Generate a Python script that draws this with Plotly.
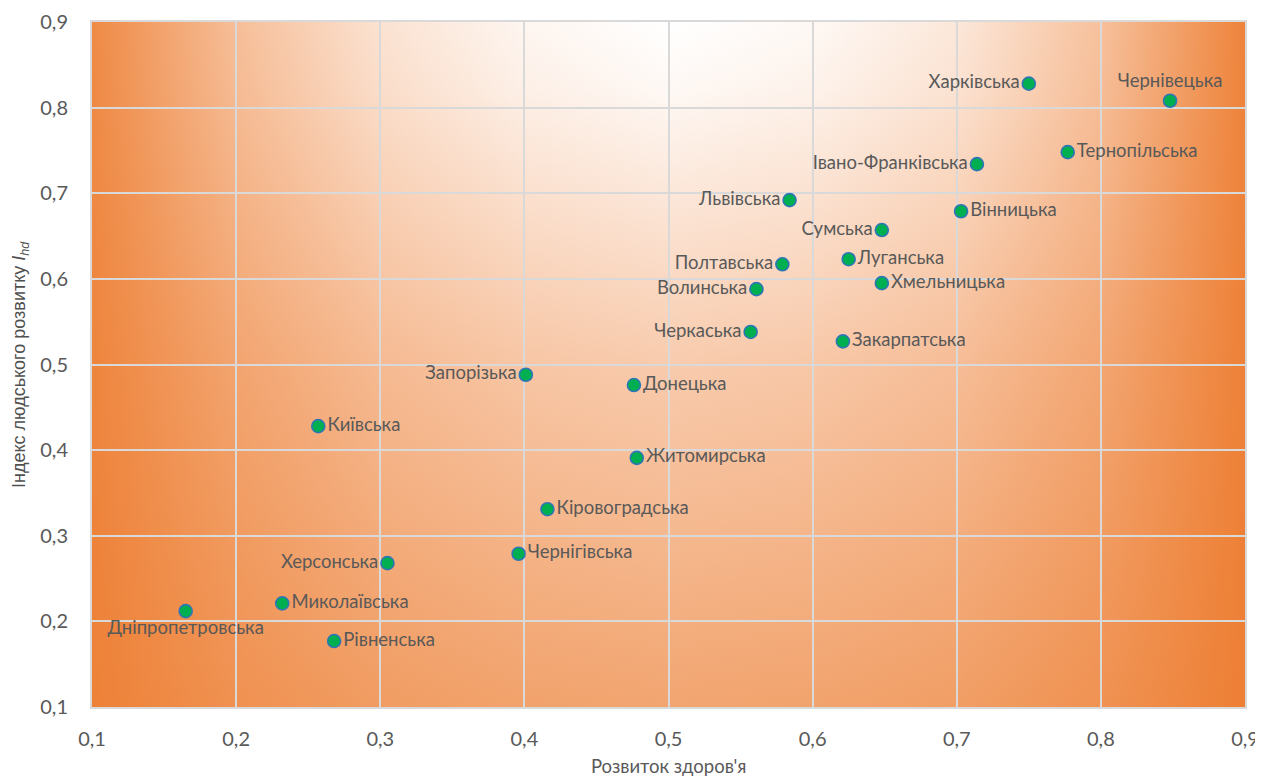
import base64
import plotly.graph_objects as go

regions = ["Харківська", "Чернівецька", "Тернопільська", "Івано-Франківська", "Львівська",
           "Вінницька", "Сумська", "Полтавська", "Луганська", "Волинська", "Хмельницька",
           "Черкаська", "Закарпатська", "Запорізька", "Донецька", "Київська", "Житомирська",
           "Кіровоградська", "Чернігівська", "Херсонська", "Миколаївська", "Дніпропетровська",
           "Рівненська"]
health = [0.750, 0.848, 0.777, 0.714, 0.584, 0.703, 0.648, 0.579, 0.625, 0.561, 0.648,
          0.557, 0.621, 0.401, 0.476, 0.257, 0.478, 0.416, 0.396, 0.305, 0.232, 0.165, 0.268]
ihd = [0.828, 0.808, 0.748, 0.734, 0.692, 0.679, 0.657, 0.617, 0.623, 0.588, 0.595,
       0.538, 0.527, 0.488, 0.476, 0.428, 0.391, 0.331, 0.279, 0.268, 0.221, 0.212, 0.177]
label_pos = ["middle left", "top center", "middle right", "middle left", "middle left",
             "middle right", "middle left", "middle left", "middle right", "middle left",
             "middle right", "middle left", "middle right", "middle left", "middle right",
             "middle right", "middle right", "middle right", "middle right", "middle left",
             "middle right", "bottom center", "middle right"]
tick_vals = [0.1, 0.2, 0.3, 0.4, 0.5, 0.6, 0.7, 0.8, 0.9]

svg = (
    '<svg xmlns="http://www.w3.org/2000/svg" width="1153" height="685" viewBox="0 0 1153 685" '
    'preserveAspectRatio="none">'
    '<defs>'
    '<linearGradient id="v" x1="0" y1="0" x2="0" y2="1">'
    '<stop offset="0" stop-color="#FFFFFF"/>'
    '<stop offset="0.1" stop-color="#FEF8F4"/>'
    '<stop offset="0.5" stop-color="#F8CBAD"/>'
    '<stop offset="1" stop-color="#F2A570"/>'
    '</linearGradient>'
    '<linearGradient id="h" x1="0" y1="0" x2="1" y2="0">'
    '<stop offset="0" stop-color="#ED7D31" stop-opacity="0.9"/>'
    '<stop offset="0.125" stop-color="#ED7D31" stop-opacity="0.5"/>'
    '<stop offset="0.25" stop-color="#ED7D31" stop-opacity="0.22"/>'
    '<stop offset="0.375" stop-color="#ED7D31" stop-opacity="0.07"/>'
    '<stop offset="0.5" stop-color="#ED7D31" stop-opacity="0"/>'
    '<stop offset="0.625" stop-color="#ED7D31" stop-opacity="0.05"/>'
    '<stop offset="0.75" stop-color="#ED7D31" stop-opacity="0.18"/>'
    '<stop offset="0.875" stop-color="#ED7D31" stop-opacity="0.48"/>'
    '<stop offset="1" stop-color="#ED7D31" stop-opacity="0.95"/>'
    '</linearGradient>'
    '</defs>'
    '<rect x="0" y="0" width="1153" height="685" fill="url(#v)"/>'
    '<rect x="0" y="0" width="1153" height="685" fill="url(#h)"/>'
    '</svg>'
)
src = "data:image/svg+xml;base64," + base64.b64encode(svg.encode()).decode()

fig = go.Figure()
fig.add_trace(go.Scatter(
    x=health, y=ihd, mode="markers+text", text=regions, textposition=label_pos,
    textfont=dict(family="Lato", size=18.5, color="#595959"),
    marker=dict(size=13, color="#00B050", line=dict(color="#2E75B6", width=1.6)),
    cliponaxis=False, hoverinfo="skip", showlegend=False,
))

fig.add_layout_image(dict(
    source=src, xref="paper", yref="paper", x=0, y=1, sizex=1, sizey=1,
    sizing="stretch", xanchor="left", yanchor="top", layer="below",
))

axis_common = dict(
    range=[0.1, 0.9], tickvals=tick_vals, tickformat=".1f",
    showgrid=True, gridcolor="#D9D9D9", gridwidth=2,
    showline=True, linecolor="#D9D9D9", linewidth=2, mirror=True,
    zeroline=False, ticks="", automargin=False,
    tickfont=dict(family="Lato", size=20, color="#595959"),
)

fig.update_layout(
    width=1255, height=770,
    margin=dict(l=84, r=18, t=14, b=71),
    paper_bgcolor="white", plot_bgcolor="rgba(0,0,0,0)",
    separators=", ",
    xaxis=dict(**axis_common, ticklabelstandoff=13),
    yaxis=dict(**axis_common, ticklabelstandoff=18),
    annotations=[
        dict(text="Розвиток здоров'я", xref="paper", yref="paper", x=0.5, y=-0.0861,
             xanchor="center", yanchor="middle", showarrow=False,
             font=dict(family="Lato", size=18.5, color="#595959")),
        dict(text="Індекс людського розвитку <i>I</i><sub><i>hd</i></sub>",
             xref="paper", yref="paper", x=-0.062, y=0.5, xanchor="center", yanchor="middle",
             textangle=-90, showarrow=False,
             font=dict(family="Liberation Sans", size=18, color="#505050")),
    ],
)

fig.write_html("out.html")
